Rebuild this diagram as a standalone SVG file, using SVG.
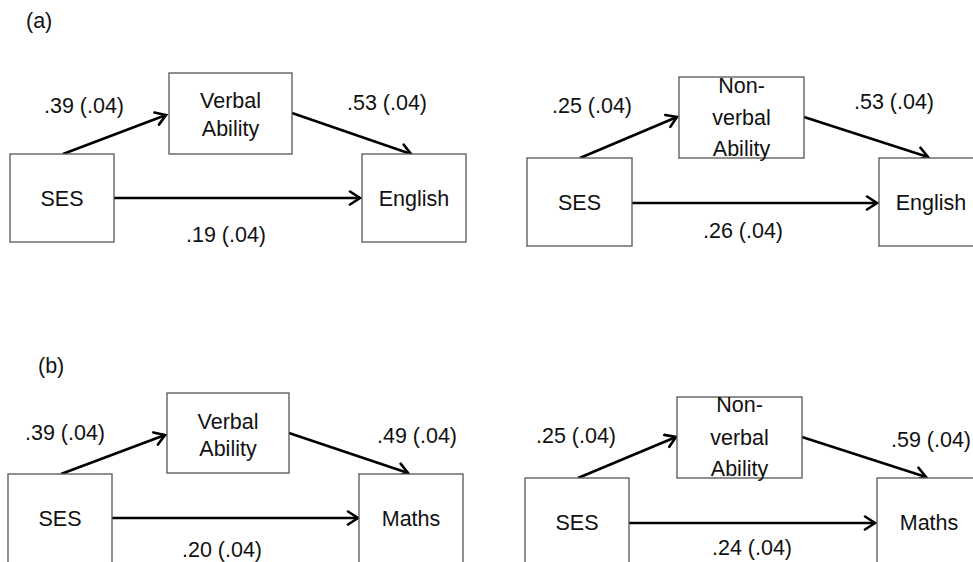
<svg xmlns="http://www.w3.org/2000/svg" width="973" height="562" viewBox="0 0 973 562">
<defs>
<marker id="arr" markerUnits="userSpaceOnUse" markerWidth="16" markerHeight="16" viewBox="-12 -8 14 16" refX="0" refY="0" orient="auto">
<path d="M-10,-6.5 L0,0 L-10,6.5" fill="none" stroke="#000" stroke-width="2.6" stroke-linecap="round" stroke-linejoin="miter"/>
</marker>
<style>
.box{fill:#fff;stroke:#555;stroke-width:1.3}
.t{font-family:"Liberation Sans",Arial,sans-serif;font-size:21.5px;fill:#111;text-anchor:middle}
.l{font-family:"Liberation Sans",Arial,sans-serif;font-size:21.5px;fill:#111}
.e{fill:none;stroke:#000;stroke-width:2.6;marker-end:url(#arr)}
</style>
</defs>
<rect width="973" height="562" fill="#fff"/>
<text class="l" x="26" y="28">(a)</text>
<text class="l" x="38" y="373">(b)</text>

<g id="connectors">
<line class="e" x1="63" y1="154" x2="166" y2="115"/>
<line class="e" x1="292" y1="113" x2="411" y2="154"/>
<line class="e" x1="114" y1="198" x2="360" y2="198"/>
<line class="e" x1="580" y1="158" x2="677" y2="117"/>
<line class="e" x1="804" y1="117" x2="928" y2="157"/>
<line class="e" x1="632" y1="203" x2="877" y2="203"/>
<line class="e" x1="61" y1="474" x2="165" y2="435"/>
<line class="e" x1="289" y1="433" x2="408" y2="473"/>
<line class="e" x1="112" y1="518" x2="358" y2="518"/>
<line class="e" x1="578" y1="478" x2="676" y2="437"/>
<line class="e" x1="802" y1="437" x2="926" y2="477"/>
<line class="e" x1="629" y1="523" x2="875" y2="523"/>
</g>

<g id="labels">
<text class="t" x="84" y="113">.39 (.04)</text>
<text class="t" x="387" y="110">.53 (.04)</text>
<text class="t" x="226" y="242">.19 (.04)</text>
<text class="t" x="592" y="113">.25 (.04)</text>
<text class="t" x="894" y="109">.53 (.04)</text>
<text class="t" x="743" y="238">.26 (.04)</text>
<text class="t" x="65" y="440">.39 (.04)</text>
<text class="t" x="417" y="443">.49 (.04)</text>
<text class="t" x="222" y="557">.20 (.04)</text>
<text class="t" x="576" y="443">.25 (.04)</text>
<text class="t" x="931" y="447">.59 (.04)</text>
<text class="t" x="752" y="555">.24 (.04)</text>
</g>

<g id="a-ses1"><rect class="box" x="10" y="154" width="104" height="88"/><text class="t" x="62" y="206">SES</text></g>
<g id="a-verbal"><rect class="box" x="169" y="73" width="123" height="81"/><text class="t" x="230.5" y="108">Verbal</text><text class="t" x="230.5" y="136">Ability</text></g>
<g id="a-english1"><rect class="box" x="362" y="154" width="104" height="88"/><text class="t" x="414" y="206">English</text></g>

<g id="a-ses2"><rect class="box" x="527" y="158" width="105" height="88"/><text class="t" x="579.5" y="210">SES</text></g>
<g id="a-nonverbal"><rect class="box" x="679" y="77" width="125" height="81"/><text class="t" x="741.5" y="92.5">Non-</text><text class="t" x="741.5" y="125">verbal</text><text class="t" x="741.5" y="156">Ability</text></g>
<g id="a-english2"><rect class="box" x="879" y="158" width="104" height="88"/><text class="t" x="931" y="210">English</text></g>

<g id="b-ses1"><rect class="box" x="8" y="474" width="104" height="100"/><text class="t" x="60" y="526">SES</text></g>
<g id="b-verbal"><rect class="box" x="167" y="393" width="122" height="80"/><text class="t" x="228" y="429">Verbal</text><text class="t" x="228" y="456">Ability</text></g>
<g id="b-maths1"><rect class="box" x="359" y="474" width="104" height="100"/><text class="t" x="411" y="526">Maths</text></g>

<g id="b-ses2"><rect class="box" x="525" y="478" width="104" height="100"/><text class="t" x="577" y="530">SES</text></g>
<g id="b-nonverbal"><rect class="box" x="677" y="397" width="125" height="81"/><text class="t" x="739.5" y="412">Non-</text><text class="t" x="739.5" y="445">verbal</text><text class="t" x="739.5" y="476">Ability</text></g>
<g id="b-maths2"><rect class="box" x="877" y="478" width="104" height="100"/><text class="t" x="929" y="530">Maths</text></g>
</svg>
